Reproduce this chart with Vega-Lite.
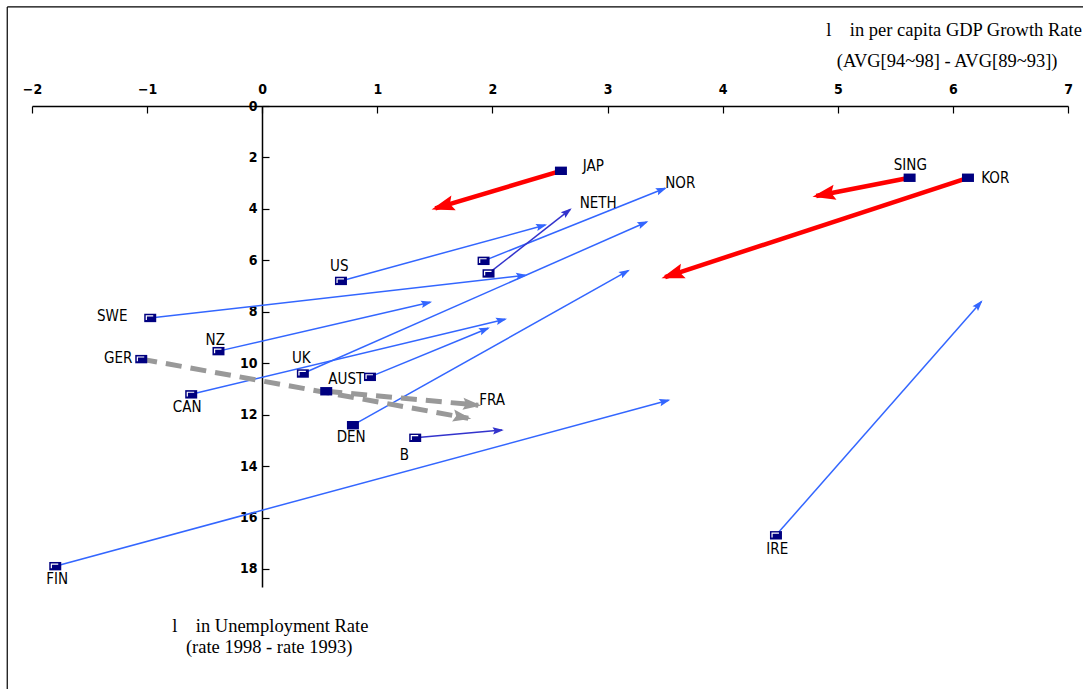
{
  "$schema": "https://vega.github.io/schema/vega-lite/v6.json",
  "width": 1036,
  "height": 481,
  "autosize": {"type": "none"},
  "padding": {"left": 32, "top": 106, "right": 15, "bottom": 102},
  "background": "white",
  "config": {
    "view": {"stroke": null},
    "axis": {"tickSize": -7, "labelFlush": false, "labelOverlap": false, "grid": false, "domainColor": "black", "tickColor": "black", "domainWidth": 1.5, "tickWidth": 1.2, "labelColor": "black", "labelFont": "DejaVu Sans Condensed, sans-serif", "labelFontSize": 14, "labelFontWeight": "bold"}
  },
  "datasets": {
    "arrows": [
      {"name": "JAP", "x": 2.595, "y": 2.52, "x2": 1.503, "y2": 3.98, "grp": "red", "lx": 2.876, "ly": 2.33},
      {"name": "SING", "x": 5.624, "y": 2.79, "x2": 4.813, "y2": 3.5, "grp": "red", "lx": 5.63, "ly": 2.3},
      {"name": "KOR", "x": 6.131, "y": 2.79, "x2": 3.5, "y2": 6.65, "grp": "red", "lx": 6.368, "ly": 2.8},
      {"name": "NETH", "x": 1.966, "y": 6.51, "x2": 2.676, "y2": 4.02, "grp": "dark", "lx": 2.919, "ly": 3.77},
      {"name": "NOR", "x": 1.923, "y": 6.02, "x2": 3.5, "y2": 3.2, "grp": "blue", "lx": 3.632, "ly": 3.0},
      {"name": "US", "x": 0.684, "y": 6.8, "x2": 2.459, "y2": 4.63, "grp": "blue", "lx": 0.669, "ly": 6.23},
      {"name": "SWE", "x": -0.973, "y": 8.24, "x2": 2.285, "y2": 6.58, "grp": "blue", "lx": -1.303, "ly": 8.17},
      {"name": "NZ", "x": -0.38, "y": 9.53, "x2": 1.46, "y2": 7.63, "grp": "blue", "lx": -0.408, "ly": 9.11},
      {"name": "GER", "x": -1.051, "y": 9.84, "x2": 1.79, "y2": 12.14, "grp": "grey", "lx": -1.251, "ly": 9.81},
      {"name": "CAN", "x": -0.617, "y": 11.21, "x2": 2.111, "y2": 8.29, "grp": "blue", "lx": -0.652, "ly": 11.71},
      {"name": "UK", "x": 0.353, "y": 10.4, "x2": 3.34, "y2": 4.51, "grp": "blue", "lx": 0.339, "ly": 9.81},
      {"name": "AUST", "x": 0.936, "y": 10.53, "x2": 1.963, "y2": 8.64, "grp": "blue", "lx": 0.73, "ly": 10.62},
      {"name": "DEN", "x": 0.788, "y": 12.41, "x2": 3.18, "y2": 6.4, "grp": "blue", "lx": 0.773, "ly": 12.88},
      {"name": "B", "x": 1.329, "y": 12.9, "x2": 2.083, "y2": 12.6, "grp": "dark", "lx": 1.234, "ly": 13.58},
      {"name": "FRA", "x": 0.556, "y": 11.09, "x2": 1.877, "y2": 11.63, "grp": "grey", "lx": 1.998, "ly": 11.44},
      {"name": "FIN", "x": -1.798, "y": 17.89, "x2": 3.53, "y2": 11.44, "grp": "blue", "lx": -1.781, "ly": 18.4},
      {"name": "IRE", "x": 4.463, "y": 16.69, "x2": 6.247, "y2": 7.61, "grp": "blue", "lx": 4.474, "ly": 17.24}
    ],
    "notes": [
      {"t": "l\u00a0\u00a0\u00a0\u00a0in per capita GDP Growth Rate", "x": 6.01, "y": -2.96},
      {"t": "(AVG[94~98] - AVG[89~93])", "x": 5.95, "y": -1.75},
      {"t": "l\u00a0\u00a0\u00a0\u00a0in Unemployment Rate", "x": 0.07, "y": 20.23},
      {"t": "(rate 1998 - rate 1993)", "x": 0.06, "y": 21.05}
    ],
    "frame": [
      {"x": -2.215, "y": -3.85, "x2": -2.215, "y2": 24},
      {"x": -2.215, "y": -3.85, "x2": 7.6, "y2": -3.85}
    ]
  },
  "layer": [
    {
      "data": {"name": "frame"},
      "mark": {"type": "rule", "color": "black", "strokeWidth": 1.2},
      "encoding": {
        "x": {"field": "x", "type": "quantitative", "scale": {"domain": [-2, 7], "nice": false, "zero": false}, "axis": {"orient": "top", "values": [-2, -1, 0, 1, 2, 3, 4, 5, 6, 7], "labelPadding": 17, "title": null}},
        "y": {"field": "y", "type": "quantitative", "scale": {"domain": [0, 18.7], "reverse": true, "nice": false, "zero": false}, "axis": {"orient": "left", "offset": -230, "values": [0, 2, 4, 6, 8, 10, 12, 14, 16, 18], "labelPadding": 12, "title": null}},
        "x2": {"field": "x2"},
        "y2": {"field": "y2"}
      }
    },
    {
      "data": {"name": "arrows"},
      "transform": [{"filter": "datum.grp == 'blue'"}],
      "mark": {"type": "rule", "color": "#3366ff", "strokeWidth": 1.5},
      "encoding": {
        "x": {"field": "x", "type": "quantitative", "scale": {"domain": [-2, 7], "nice": false, "zero": false}, "axis": {"orient": "top", "values": [-2, -1, 0, 1, 2, 3, 4, 5, 6, 7], "labelPadding": 17, "title": null}},
        "y": {"field": "y", "type": "quantitative", "scale": {"domain": [0, 18.7], "reverse": true, "nice": false, "zero": false}, "axis": {"orient": "left", "offset": -230, "values": [0, 2, 4, 6, 8, 10, 12, 14, 16, 18], "labelPadding": 12, "title": null}},
        "x2": {"field": "x2"},
        "y2": {"field": "y2"}
      }
    },
    {
      "data": {"name": "arrows"},
      "transform": [{"filter": "datum.grp == 'dark'"}],
      "mark": {"type": "rule", "color": "#3333cc", "strokeWidth": 1.5},
      "encoding": {
        "x": {"field": "x", "type": "quantitative", "scale": {"domain": [-2, 7], "nice": false, "zero": false}, "axis": {"orient": "top", "values": [-2, -1, 0, 1, 2, 3, 4, 5, 6, 7], "labelPadding": 17, "title": null}},
        "y": {"field": "y", "type": "quantitative", "scale": {"domain": [0, 18.7], "reverse": true, "nice": false, "zero": false}, "axis": {"orient": "left", "offset": -230, "values": [0, 2, 4, 6, 8, 10, 12, 14, 16, 18], "labelPadding": 12, "title": null}},
        "x2": {"field": "x2"},
        "y2": {"field": "y2"}
      }
    },
    {
      "data": {"name": "arrows"},
      "transform": [{"filter": "datum.grp == 'grey'"}],
      "mark": {"type": "rule", "color": "#999999", "strokeWidth": 5, "strokeDash": [16, 9]},
      "encoding": {
        "x": {"field": "x", "type": "quantitative", "scale": {"domain": [-2, 7], "nice": false, "zero": false}, "axis": {"orient": "top", "values": [-2, -1, 0, 1, 2, 3, 4, 5, 6, 7], "labelPadding": 17, "title": null}},
        "y": {"field": "y", "type": "quantitative", "scale": {"domain": [0, 18.7], "reverse": true, "nice": false, "zero": false}, "axis": {"orient": "left", "offset": -230, "values": [0, 2, 4, 6, 8, 10, 12, 14, 16, 18], "labelPadding": 12, "title": null}},
        "x2": {"field": "x2"},
        "y2": {"field": "y2"}
      }
    },
    {
      "data": {"name": "arrows"},
      "transform": [{"filter": "datum.grp == 'red'"}],
      "mark": {"type": "rule", "color": "#ff0000", "strokeWidth": 4.5},
      "encoding": {
        "x": {"field": "x", "type": "quantitative", "scale": {"domain": [-2, 7], "nice": false, "zero": false}, "axis": {"orient": "top", "values": [-2, -1, 0, 1, 2, 3, 4, 5, 6, 7], "labelPadding": 17, "title": null}},
        "y": {"field": "y", "type": "quantitative", "scale": {"domain": [0, 18.7], "reverse": true, "nice": false, "zero": false}, "axis": {"orient": "left", "offset": -230, "values": [0, 2, 4, 6, 8, 10, 12, 14, 16, 18], "labelPadding": 12, "title": null}},
        "x2": {"field": "x2"},
        "y2": {"field": "y2"}
      }
    },
    {
      "data": {"name": "arrows"},
      "transform": [
        {"calculate": "atan2((datum.x2 - datum.x) * 115.1, -(datum.y2 - datum.y) * 25.7) * 180 / PI", "as": "ang"}
      ],
      "mark": {"type": "point", "shape": "M0,-0.3L-0.6,1.5L0,1.2L0.6,1.5Z", "filled": true, "opacity": 1},
      "encoding": {
        "x": {"field": "x2", "type": "quantitative", "scale": {"domain": [-2, 7], "nice": false, "zero": false}, "axis": {"orient": "top", "values": [-2, -1, 0, 1, 2, 3, 4, 5, 6, 7], "labelPadding": 17, "title": null}},
        "y": {"field": "y2", "type": "quantitative", "scale": {"domain": [0, 18.7], "reverse": true, "nice": false, "zero": false}, "axis": {"orient": "left", "offset": -230, "values": [0, 2, 4, 6, 8, 10, 12, 14, 16, 18], "labelPadding": 12, "title": null}},
        "angle": {"field": "ang", "type": "quantitative", "scale": null},
        "color": {"field": "grp", "type": "nominal", "legend": null, "scale": {"domain": ["blue", "dark", "red", "grey"], "range": ["#3366ff", "#3333cc", "#ff0000", "#999999"]}},
        "size": {"field": "grp", "type": "ordinal", "legend": null, "scale": {"type": "ordinal", "domain": ["blue", "dark", "red", "grey"], "range": [150, 150, 650, 420]}}
      }
    },
    {
      "data": {"name": "arrows"},
      "mark": {"type": "point", "shape": "M-1,-0.7L1,-0.7L1,0.7L-1,0.7Z", "filled": true, "color": "#000080", "opacity": 1, "size": 144},
      "encoding": {
        "x": {"field": "x", "type": "quantitative", "scale": {"domain": [-2, 7], "nice": false, "zero": false}, "axis": {"orient": "top", "values": [-2, -1, 0, 1, 2, 3, 4, 5, 6, 7], "labelPadding": 17, "title": null}},
        "y": {"field": "y", "type": "quantitative", "scale": {"domain": [0, 18.7], "reverse": true, "nice": false, "zero": false}, "axis": {"orient": "left", "offset": -230, "values": [0, 2, 4, 6, 8, 10, 12, 14, 16, 18], "labelPadding": 12, "title": null}}
      }
    },
    {
      "data": {"name": "arrows"},
      "transform": [{"filter": "indexof(['JAP','DEN','SING','KOR','FRA'], datum.name) < 0"}],
      "mark": {"type": "point", "shape": "M-0.65,0.35L-0.65,-0.35L0.5,-0.35", "filled": false, "color": "white", "strokeWidth": 1.2, "opacity": 1, "size": 144},
      "encoding": {
        "x": {"field": "x", "type": "quantitative", "scale": {"domain": [-2, 7], "nice": false, "zero": false}, "axis": {"orient": "top", "values": [-2, -1, 0, 1, 2, 3, 4, 5, 6, 7], "labelPadding": 17, "title": null}},
        "y": {"field": "y", "type": "quantitative", "scale": {"domain": [0, 18.7], "reverse": true, "nice": false, "zero": false}, "axis": {"orient": "left", "offset": -230, "values": [0, 2, 4, 6, 8, 10, 12, 14, 16, 18], "labelPadding": 12, "title": null}}
      }
    },
    {
      "data": {"name": "arrows"},
      "mark": {"type": "text", "font": "DejaVu Sans Condensed, sans-serif", "fontSize": 15, "fontWeight": "normal", "color": "black", "align": "center", "baseline": "middle"},
      "encoding": {
        "x": {"field": "lx", "type": "quantitative", "scale": {"domain": [-2, 7], "nice": false, "zero": false}, "axis": {"orient": "top", "values": [-2, -1, 0, 1, 2, 3, 4, 5, 6, 7], "labelPadding": 17, "title": null}},
        "y": {"field": "ly", "type": "quantitative", "scale": {"domain": [0, 18.7], "reverse": true, "nice": false, "zero": false}, "axis": {"orient": "left", "offset": -230, "values": [0, 2, 4, 6, 8, 10, 12, 14, 16, 18], "labelPadding": 12, "title": null}},
        "text": {"field": "name"}
      }
    },
    {
      "data": {"name": "notes"},
      "mark": {"type": "text", "font": "Liberation Serif, Times New Roman, serif", "fontSize": 18.5, "color": "black", "align": "center", "baseline": "middle"},
      "encoding": {
        "x": {"field": "x", "type": "quantitative", "scale": {"domain": [-2, 7], "nice": false, "zero": false}, "axis": {"orient": "top", "values": [-2, -1, 0, 1, 2, 3, 4, 5, 6, 7], "labelPadding": 17, "title": null}},
        "y": {"field": "y", "type": "quantitative", "scale": {"domain": [0, 18.7], "reverse": true, "nice": false, "zero": false}, "axis": {"orient": "left", "offset": -230, "values": [0, 2, 4, 6, 8, 10, 12, 14, 16, 18], "labelPadding": 12, "title": null}},
        "text": {"field": "t"}
      }
    }
  ]
}
